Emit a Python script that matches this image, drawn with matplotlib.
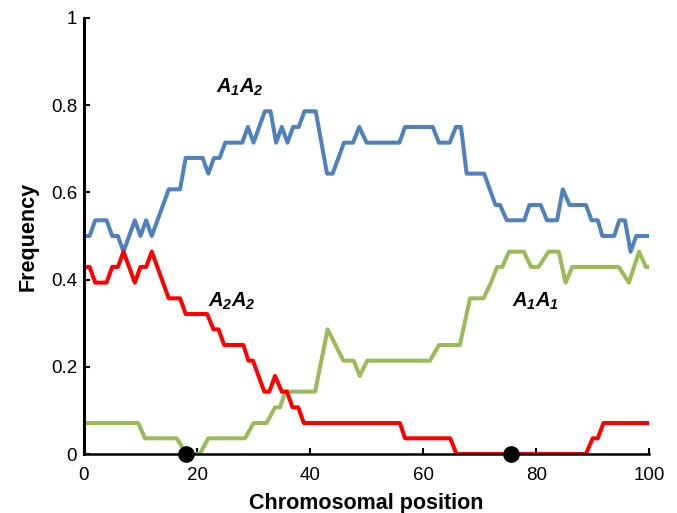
import matplotlib
matplotlib.use("Agg")
import matplotlib.pyplot as plt

plt.rcParams["font.family"] = ["Liberation Sans", "DejaVu Sans"]
plt.rcParams["mathtext.fontset"] = "custom"
plt.rcParams["mathtext.it"] = "Liberation Sans:bold:italic"
plt.rcParams["mathtext.rm"] = "Liberation Sans:bold:italic"

# genotype frequencies along the chromosome
a1a2_x = [0, 1, 2, 4, 5, 6, 7, 9, 10, 11, 12, 15, 17, 18, 21, 22, 23, 24, 25, 28,
          29, 30, 31, 32, 33, 34, 35, 36, 37, 38, 39, 41, 43, 44, 46, 47.6, 48.7, 50,
          55.8, 56.8, 61.7, 62.8, 64.7, 65.8, 66.7, 67.7, 70.8, 72.8, 73.6, 74.8,
          77.9, 78.8, 80.8, 81.9, 83.7, 84.7, 85.9, 88.8, 89.8, 90.9, 91.7, 93.8,
          94.7, 95.7, 96.7, 97.7, 100]
a1a2_y = [0.5, 0.5, 0.536, 0.536, 0.5, 0.5, 0.464, 0.536, 0.5, 0.536, 0.5, 0.607,
          0.607, 0.679, 0.679, 0.643, 0.679, 0.679, 0.714, 0.714, 0.75, 0.714, 0.75,
          0.786, 0.786, 0.714, 0.75, 0.714, 0.75, 0.75, 0.786, 0.786, 0.643, 0.643,
          0.714, 0.714, 0.75, 0.714, 0.714, 0.75, 0.75, 0.714, 0.714, 0.75, 0.75,
          0.643, 0.643, 0.571, 0.571, 0.536, 0.536, 0.571, 0.571, 0.536, 0.536,
          0.607, 0.571, 0.571, 0.536, 0.536, 0.5, 0.5, 0.536, 0.536, 0.464, 0.5, 0.5]

a2a2_x = [0, 1, 2, 4, 5, 6, 7, 9, 10, 11, 12, 15, 17, 18, 21.8, 22.9, 23.8, 24.8,
          28.2, 29.1, 29.9, 31.9, 32.8, 33.8, 35, 35.9, 36.9, 37.9, 38.9, 55.9,
          56.8, 64.8, 65.9, 88.8, 90, 90.9, 91.9, 100]
a2a2_y = [0.429, 0.429, 0.393, 0.393, 0.429, 0.429, 0.464, 0.393, 0.429, 0.429,
          0.464, 0.357, 0.357, 0.321, 0.321, 0.286, 0.286, 0.25, 0.25, 0.214, 0.214,
          0.143, 0.143, 0.179, 0.143, 0.143, 0.107, 0.107, 0.071, 0.071, 0.036,
          0.036, 0.0, 0.0, 0.036, 0.036, 0.071, 0.071]

a1a1_x = [0, 9.6, 10.8, 16.4, 18.2, 20.5, 22, 28.5, 30, 32.3, 33.8, 34.7, 35.6,
          40.9, 43.1, 45.9, 47.7, 48.8, 50.1, 61.2, 62.8, 66.5, 68.3, 70.7, 72,
          73.1, 74, 75.2, 77.8, 79.1, 80.4, 82.2, 84, 85.2, 86.4, 94.6, 96.4, 98.2,
          99.4, 100]
a1a1_y = [0.071, 0.071, 0.036, 0.036, 0.0, 0.0, 0.036, 0.036, 0.071, 0.071, 0.107,
          0.107, 0.143, 0.143, 0.286, 0.214, 0.214, 0.179, 0.214, 0.214, 0.25, 0.25,
          0.357, 0.357, 0.393, 0.429, 0.429, 0.464, 0.464, 0.429, 0.429, 0.464,
          0.464, 0.393, 0.429, 0.429, 0.393, 0.464, 0.429, 0.429]

marker_x = [18, 75.5]
marker_y = [0, 0]

fig = plt.figure(figsize=(6.77, 5.13), dpi=100)
ax = fig.add_axes([0.124, 0.115, 0.835, 0.85])

ax.plot(a1a2_x, a1a2_y, color="#4F81BD", lw=2.9, solid_joinstyle="round")
ax.plot(a1a1_x, a1a1_y, color="#9BBB59", lw=2.9, solid_joinstyle="round")
ax.plot(a2a2_x, a2a2_y, color="#FF0000", lw=2.9, solid_joinstyle="round")
ax.plot(marker_x, marker_y, "o", color="black", ms=11, clip_on=False, zorder=5)

ax.text(27.6, 0.84, "$A_1A_2$", fontsize=14.5, ha="center", va="center")
ax.text(26.2, 0.35, "$A_2A_2$", fontsize=14.5, ha="center", va="center")
ax.text(79.8, 0.35, "$A_1A_1$", fontsize=14.5, ha="center", va="center")

ax.set_xlim(0, 100)
ax.set_ylim(0, 1)
ax.set_xticks([0, 20, 40, 60, 80, 100])
ax.set_yticks([0, 0.2, 0.4, 0.6, 0.8, 1])
ax.set_yticklabels(["0", "0.2", "0.4", "0.6", "0.8", "1"])
ax.tick_params(direction="in", length=4, width=1.5, labelsize=13.5)
ax.tick_params(axis="x", pad=9)
ax.tick_params(axis="y", pad=5)
ax.spines["top"].set_visible(False)
ax.spines["right"].set_visible(False)
ax.spines["left"].set_linewidth(2.2)
ax.spines["bottom"].set_linewidth(1.8)
ax.set_xlabel("Chromosomal position", fontsize=15.5, fontweight="bold", labelpad=7)
ax.set_ylabel("Frequency", fontsize=15.5, fontweight="bold", labelpad=9)

fig.savefig("out.png", dpi=100)
